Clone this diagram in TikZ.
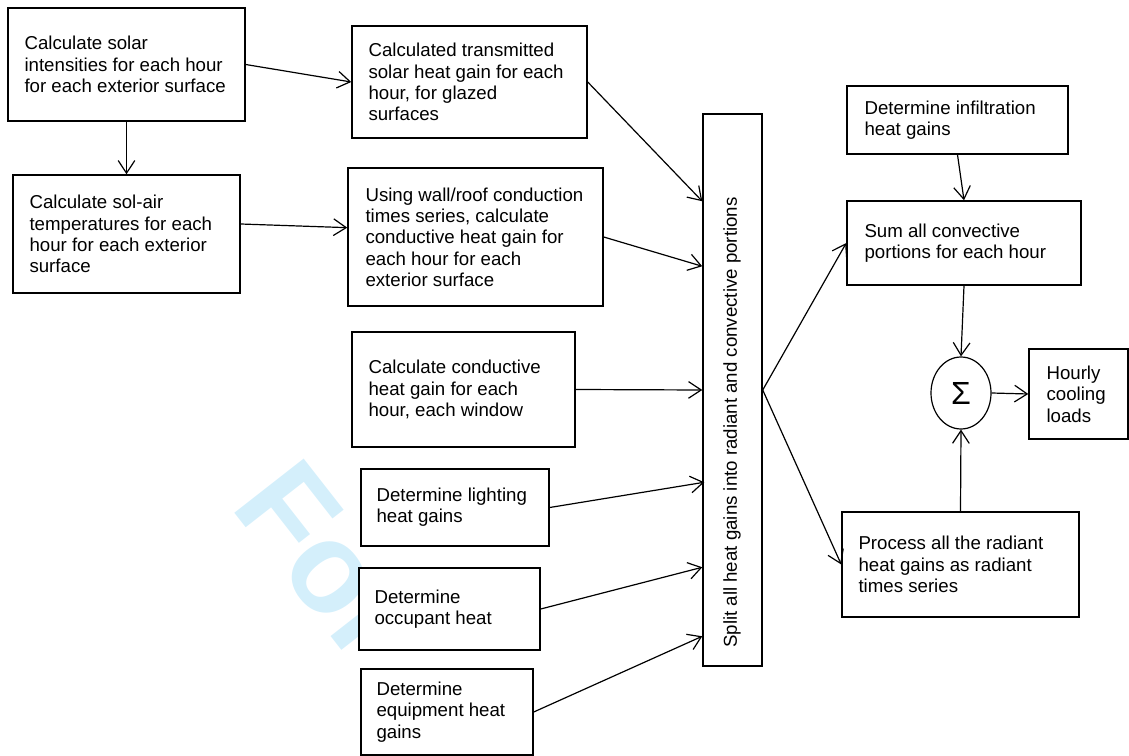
\documentclass[tikz,border=0pt]{standalone}
\usepackage{fontspec}
\setmainfont{Liberation Sans}
\usetikzlibrary{arrows.meta,shapes.geometric,calc}
\definecolor{wmblue}{RGB}{212,239,251}
\begin{document}
\begin{tikzpicture}[x=0.75pt,y=-0.75pt,
  box/.style={draw=black,line width=1.1pt,fill=white,inner sep=0pt},
  txt/.style={inner sep=0pt,align=left,anchor=west,font=\fontsize{14}{16}\selectfont},
  arr/.style={line width=0.9pt,-{Straight Barb[length=9.5pt,width=12.5pt,line width=0.9pt]}}]
\useasboundingbox (0,0) rectangle (1129,756);
% watermark
\node[rotate=-52,anchor=base west,inner sep=0pt,text=wmblue,font=\fontsize{96}{96}\bfseries\selectfont] (wmk) at (229,506) {For};
% boxes
\node[box,minimum width=177.75pt,minimum height=84.75pt] (A) at (126.5,64.5) {};
\node[txt] (At) at ([xshift=12.75pt]A.west) {Calculate solar\\intensities for each hour\\for each exterior surface};
\node[box,minimum width=170.25pt,minimum height=88.5pt] (B) at (126.5,234) {};
\node[txt] (Bt) at ([xshift=12.75pt]B.west) {Calculate sol-air\\temperatures for each\\hour for each exterior\\surface};
\node[box,minimum width=176.25pt,minimum height=84pt] (C) at (469.5,82) {};
\node[txt] (Ct) at ([xshift=12.75pt]C.west) {Calculated transmitted\\solar heat gain for each\\hour, for glazed\\surfaces};
\node[box,minimum width=191.25pt,minimum height=103.5pt] (D) at (475.5,237) {};
\node[txt] (Dt) at ([xshift=13.5pt]D.west) {Using wall/roof conduction\\times series, calculate\\conductive heat gain for\\each hour for each\\exterior surface};
\node[box,minimum width=167.25pt,minimum height=86.25pt] (E) at (463.5,389.5) {};
\node[txt] (Et) at ([xshift=12.75pt]E.west) {Calculate conductive\\heat gain for each\\hour, each window};
\node[box,minimum width=141pt,minimum height=57.75pt] (F) at (455,507.5) {};
\node[txt] (Ft) at ([xshift=12pt]F.west) {Determine lighting\\heat gains};
\node[box,minimum width=135.75pt,minimum height=61.5pt] (G) at (449.5,609) {};
\node[txt] (Gt) at ([xshift=12pt]G.west) {Determine\\occupant heat};
\node[box,minimum width=129pt,minimum height=64.5pt] (H) at (447,712) {};
\node[txt] (Ht) at ([xshift=12pt]H.west) {Determine\\equipment heat\\gains};
\node[box,minimum width=44.25pt,minimum height=414pt] (S) at (732.5,390) {};
\node[rotate=90,anchor=west,inner sep=0pt,font=\fontsize{14}{16}\selectfont] (St) at (732,648) {Split all heat gains into radiant and convective portions};
\node[box,minimum width=165.75pt,minimum height=51pt] (I) at (957.5,120) {};
\node[txt] (It) at ([xshift=13.5pt]I.west) {Determine infiltration\\heat gains};
\node[box,minimum width=175.5pt,minimum height=63pt] (J) at (964,243) {};
\node[txt] (Jt) at ([xshift=13.5pt]J.west) {Sum all convective\\portions for each hour};
\node[box,minimum width=74.25pt,minimum height=67.5pt] (K) at (1078.5,394) {};
\node[txt] (Kt) at ([xshift=13.5pt]K.west) {Hourly\\cooling\\loads};
\node[box,minimum width=177.75pt,minimum height=78.75pt] (L) at (960.5,564.5) {};
\node[txt] (Lt) at ([xshift=12.75pt]L.west) {Process all the radiant\\heat gains as radiant\\times series};
\node[draw=black,line width=0.9pt,fill=white,ellipse,inner sep=0pt,minimum width=45pt,minimum height=54pt,font=\fontsize{24}{24}\selectfont] (X) at (961,393) {Σ};
% connectors
\draw[arr] (A.east) -- (C.west);
\draw[arr] (A.south) -- (B.north);
\draw[arr] ([yshift=7.5pt]B.east) -- ([yshift=7pt]D.west);
\draw[arr] (C.east) -- ($(S.north west)+(0,88)$);
\draw[arr] (D.east) -- ($(S.north west)+(0,153)$);
\draw[arr] (E.east) -- (S.west);
\draw[arr] (F.east) -- ($(S.north west)+(2,369)$);
\draw[arr] (G.east) -- ($(S.north west)+(0,454)$);
\draw[arr] (H.east) -- ($(S.north west)+(0,523)$);
\draw[arr] (S.east) -- (J.west);
\draw[arr] (S.east) -- (L.west);
\draw[arr] (I.south) -- (J.north);
\draw[arr] (J.south) -- (X.north);
\draw[arr] (L.north) -- (X.south);
\draw[arr] (X.east) -- (K.west);
\end{tikzpicture}
\end{document}
